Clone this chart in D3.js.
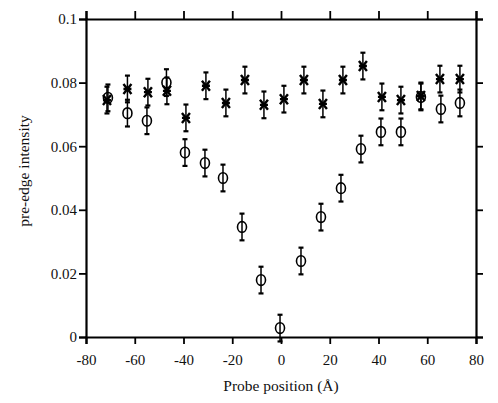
<!DOCTYPE html>
<html>
<head>
<meta charset="utf-8">
<script src="https://d3js.org/d3.v7.min.js"></script>
<style>
  body { margin: 0; background: #fff; }
  .tick text { font-family: "Liberation Serif", serif; font-size: 15px; fill: #111; }
  .lbl { font-family: "Liberation Serif", serif; fill: #111; }
</style>
</head>
<body>
<div id="chart"></div>
<script>
// open circles
const circX = [-71, -63, -55, -47, -39.4, -31.2, -23.8, -16, -8.2, -0.4, 8.2, 16.4, 24.6, 32.8, 41, 49.2, 57.4, 65.6, 73.4];
const circY = [0.0752, 0.0704, 0.068, 0.080, 0.058, 0.0547, 0.050, 0.0346, 0.0179, 0.0028, 0.0239, 0.0377, 0.0468, 0.0591, 0.0645, 0.0645, 0.0755, 0.0717, 0.0736];
// crosses
const starX = [-71.4, -63, -54.6, -46.8, -39, -30.8, -22.6, -14.8, -7, 1.2, 9.4, 17.2, 25.4, 33.6, 41.4, 49.2, 57.4, 65.2, 73.4];
const starY = [0.0745, 0.078, 0.077, 0.0774, 0.0689, 0.079, 0.0736, 0.0808, 0.073, 0.0748, 0.0808, 0.0733, 0.0808, 0.0852, 0.0755, 0.0745, 0.0758, 0.0811, 0.0811];
const errBar = 0.0042;

const xTicks = [-80, -60, -40, -20, 0, 20, 40, 60, 80];
const yTicks = [0, 0.02, 0.04, 0.06, 0.08, 0.1];

const width = 498, height = 403;
const svg = d3.select('#chart').append('svg')
    .attr('width', width).attr('height', height);

const x = d3.scaleLinear().domain([-80, 80]).range([86, 476]);
const y = d3.scaleLinear().domain([0, 0.1]).range([337, 19]);

const fmtY = d => d === 0 ? '0' : (d === 0.1 ? '0.1' : d3.format('.2f')(d));
const fmtX = d => d < 0 ? '-' + Math.abs(d) : String(d);

// axes
svg.append('g').attr('transform', 'translate(0,337)')
    .call(d3.axisBottom(x).tickValues(xTicks).tickFormat(fmtX).tickSize(7).tickPadding(10));
svg.append('g').attr('transform', 'translate(0,19)')
    .call(d3.axisTop(x).tickValues(xTicks).tickFormat('').tickSize(8));
svg.append('g').attr('transform', 'translate(86,0)')
    .call(d3.axisLeft(y).tickValues(yTicks).tickFormat(fmtY).tickSize(7).tickPadding(2));
svg.append('g').attr('transform', 'translate(476,0)')
    .call(d3.axisRight(y).tickValues(yTicks).tickFormat('').tickSize(7));

svg.selectAll('.domain').attr('stroke', '#000').attr('stroke-width', 2.2);
svg.selectAll('.tick line').attr('stroke', '#000').attr('stroke-width', 1.8);

// error bars
function errors(xs, ys) {
  const g = svg.append('g').attr('stroke', '#000').attr('stroke-width', 1.5);
  xs.forEach((xv, i) => {
    const cx = x(xv), top = y(ys[i] + errBar), bot = y(ys[i] - errBar);
    g.append('line').attr('x1', cx).attr('x2', cx).attr('y1', top).attr('y2', bot);
    g.append('line').attr('x1', cx - 2.5).attr('x2', cx + 2.5).attr('y1', top).attr('y2', top).attr('stroke-width', 2.2);
    g.append('line').attr('x1', cx - 2.5).attr('x2', cx + 2.5).attr('y1', bot).attr('y2', bot).attr('stroke-width', 2.2);
  });
}
errors(circX, circY);
errors(starX, starY);

// circles
svg.append('g').selectAll('ellipse')
    .data(circX.map((d, i) => [d, circY[i]]))
    .join('ellipse')
    .attr('cx', d => x(d[0])).attr('cy', d => y(d[1]))
    .attr('rx', 4.5).attr('ry', 5.3)
    .attr('fill', 'none').attr('stroke', '#000').attr('stroke-width', 1.6);

// crosses
const star = svg.append('g').attr('stroke', '#000').attr('stroke-width', 2.4);
starX.forEach((xv, i) => {
  const cx = x(xv), cy = y(starY[i]);
  star.append('path').attr('d', `M${cx - 4},${cy - 5}L${cx + 4},${cy + 5}M${cx + 4},${cy - 5}L${cx - 4},${cy + 5}M${cx - 4},${cy}L${cx + 4},${cy}`);
});

// labels
svg.append('text').attr('class', 'lbl')
    .attr('x', 281).attr('y', 391).attr('text-anchor', 'middle')
    .style('font-size', '15.5px').text('Probe position (Å)');
svg.append('text').attr('class', 'lbl')
    .attr('transform', 'translate(24,171) rotate(-90)')
    .attr('text-anchor', 'middle').attr('dy', '0.35em')
    .style('font-size', '15.5px').text('pre-edge intensity');
</script>
</body>
</html>
